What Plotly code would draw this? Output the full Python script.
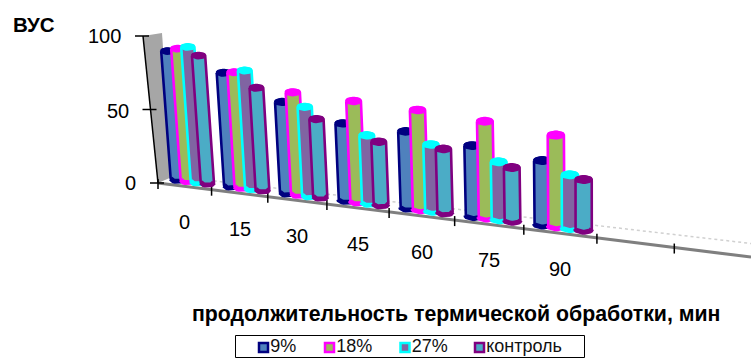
import numpy as np
import plotly.graph_objects as go

# Treatment duration categories and the measured series
categories = ["0", "15", "30", "45", "60", "75", "90"]
series_names = ["9%", "18%", "27%", "контроль"]
s_9 = [92.5, 78.8, 61.8, 51, 49, 43.9, 39]
s_18 = [95, 80, 68.7, 65.3, 62.2, 58.3, 53.6]
s_27 = [97, 82, 60.5, 45.6, 43.2, 36.7, 33.2]
s_control = [92, 71.6, 53.7, 42.6, 41.5, 34.4, 31.6]
value_ticks = [0, 50, 100]

fills = ["#4f81bd", "#9bbb59", "#8064a2", "#4bacc6"]
outlines = ["#000080", "#ff00ff", "#00ffff", "#800080"]

FONT = "Liberation Sans, Arial, sans-serif"
W, H = 751, 358


# Oblique perspective used for the floor and the upright columns
def floor_x(i):
    return 158 + 52.3 * i / (1 - 0.0237 * i)


def floor_y(x):
    return 183 + 0.125 * (x - 158)


def lean(x):
    return -0.075 * (590 - x) / 415


def height_scale(i):
    return 1.47 * (1 + 0.045 * i)


def ellipse(cx, cy, rx, ry, start, stop, n=14):
    t = np.linspace(start, stop, n)
    return list(cx + rx * np.cos(t)), list(cy + ry * np.sin(t))


def cylinder(i, j, v):
    left, right = floor_x(i), floor_x(i + 1)
    cx = left + (right - left) * (0.36 - 0.017 * i + 0.187 * j)
    base = floor_y(cx) - 2.5
    rx = 6.6 + 0.25 * i
    ry = rx * 0.42
    h = height_scale(i) * v
    by = base - ry - 1.5
    ty = base - h + ry + 1.5
    tx = cx + lean(cx) * (by - ty)
    top_x, top_y = ellipse(tx, ty, rx, ry, np.pi, 2 * np.pi)
    bot_x, bot_y = ellipse(cx, by, rx, ry, 0, np.pi)
    body = (top_x + bot_x + [top_x[0]], top_y + bot_y + [top_y[0]])
    cap = ellipse(tx, ty, rx, ry, 0, 2 * np.pi, 24)
    foot = (bot_x, bot_y)
    return body, cap, foot


fig = go.Figure()

# Back wall behind the value axis
ax0 = (158, 183)
ax100 = (143, 36)
fig.add_trace(go.Scatter(
    x=[ax100[0], ax100[0] + 19, ax0[0] + 14, ax0[0]],
    y=[ax100[1], ax100[1] - 3, ax0[1] - 6, ax0[1]],
    fill="toself", fillcolor="#a6a6a6", mode="none", hoverinfo="skip",
))

# Far edge of the floor
fig.add_trace(go.Scatter(
    x=[172, W], y=[176, 243.5], mode="lines",
    line=dict(color="#d0d0d0", width=1.5, dash="dot"), hoverinfo="skip",
))

# Near edge of the floor and the category ticks
fig.add_trace(go.Scatter(
    x=[ax0[0], W], y=[ax0[1], floor_y(W)], mode="lines",
    line=dict(color="#7f7f7f", width=3), hoverinfo="skip",
))
tx, ty = [], []
for i in range(0, len(categories) + 2):
    x = floor_x(i)
    tx += [x, x, None]
    ty += [floor_y(x) - 4, floor_y(x) + 6, None]
fig.add_trace(go.Scatter(x=tx, y=ty, mode="lines",
                         line=dict(color="black", width=1.5), hoverinfo="skip"))

# Value axis line and its ticks
vx, vy = [ax100[0], ax0[0], None], [ax100[1], ax0[1], None]
for v in value_ticks:
    x = ax0[0] - 0.15 * v
    y = ax0[1] - 1.47 * v
    vx += [x - 8, x + 6, None]
    vy += [y, y, None]
fig.add_trace(go.Scatter(x=vx, y=vy, mode="lines",
                         line=dict(color="black", width=1.5), hoverinfo="skip"))

# Columns, one series at a time from back to front
for j, values in enumerate([s_9, s_18, s_27, s_control]):
    bx, by, cx, cy, fx, fy = [], [], [], [], [], []
    for i, v in enumerate(values):
        body, cap, foot = cylinder(i, j, v)
        bx += body[0] + [None]
        by += body[1] + [None]
        cx += cap[0] + [None]
        cy += cap[1] + [None]
        fx += foot[0] + [None]
        fy += foot[1] + [None]
    fig.add_trace(go.Scatter(x=bx, y=by, fill="toself", fillcolor=fills[j], mode="lines",
                             line=dict(color=outlines[j], width=2.6), name=series_names[j]))
    fig.add_trace(go.Scatter(x=fx, y=fy, mode="lines",
                             line=dict(color=outlines[j], width=5), hoverinfo="skip"))
    fig.add_trace(go.Scatter(x=cx, y=cy, fill="toself", fillcolor=outlines[j], mode="lines",
                             line=dict(color=outlines[j], width=2), hoverinfo="skip"))

# Legend swatches with their labels
legend_x = [263.5, 329.5, 405, 479.5]
fig.add_trace(go.Scatter(
    x=legend_x, y=[347.5] * 4, mode="markers+text",
    marker=dict(symbol="square", size=9, color=fills, line=dict(color=outlines, width=2.5)),
    text=series_names, textposition="middle right",
    textfont=dict(family=FONT, size=18, color="#111111"), hoverinfo="skip",
))

annotations = [
    dict(x=34, y=24, text="<b>ВУС</b>", font=dict(size=20.5)),
    dict(x=456, y=314, text="<b>продолжительность термической обработки, мин</b>",
         font=dict(size=21.3)),
]
for v in value_ticks:
    y_label = ax0[1] - 1.47 * v + (1 if v == 50 else 0)
    annotations.append(dict(x=ax0[0] - 0.15 * v - 21, y=y_label, text=str(v),
                            xanchor="right", font=dict(size=20)))
for i, label in enumerate(categories):
    mid = (floor_x(i) + floor_x(i + 1)) / 2
    annotations.append(dict(x=mid, y=floor_y(mid) + 36, text=label, font=dict(size=20)))

for a in annotations:
    a.setdefault("xanchor", "center")
    a.update(xref="x", yref="y", yanchor="middle", showarrow=False, borderpad=0)
    a["font"].update(family=FONT, color="black")

fig.update_layout(
    width=W, height=H, margin=dict(l=0, r=0, t=0, b=0),
    paper_bgcolor="white", plot_bgcolor="white", showlegend=False,
    xaxis=dict(range=[0, W], visible=False, fixedrange=True),
    yaxis=dict(range=[H, 0], visible=False, fixedrange=True),
    annotations=annotations,
    shapes=[dict(type="rect", xref="x", yref="y", x0=235.5, x1=584.5, y0=335.5, y1=357.5,
                 line=dict(color="black", width=1), layer="below")],
)

fig.write_html("out.html")
